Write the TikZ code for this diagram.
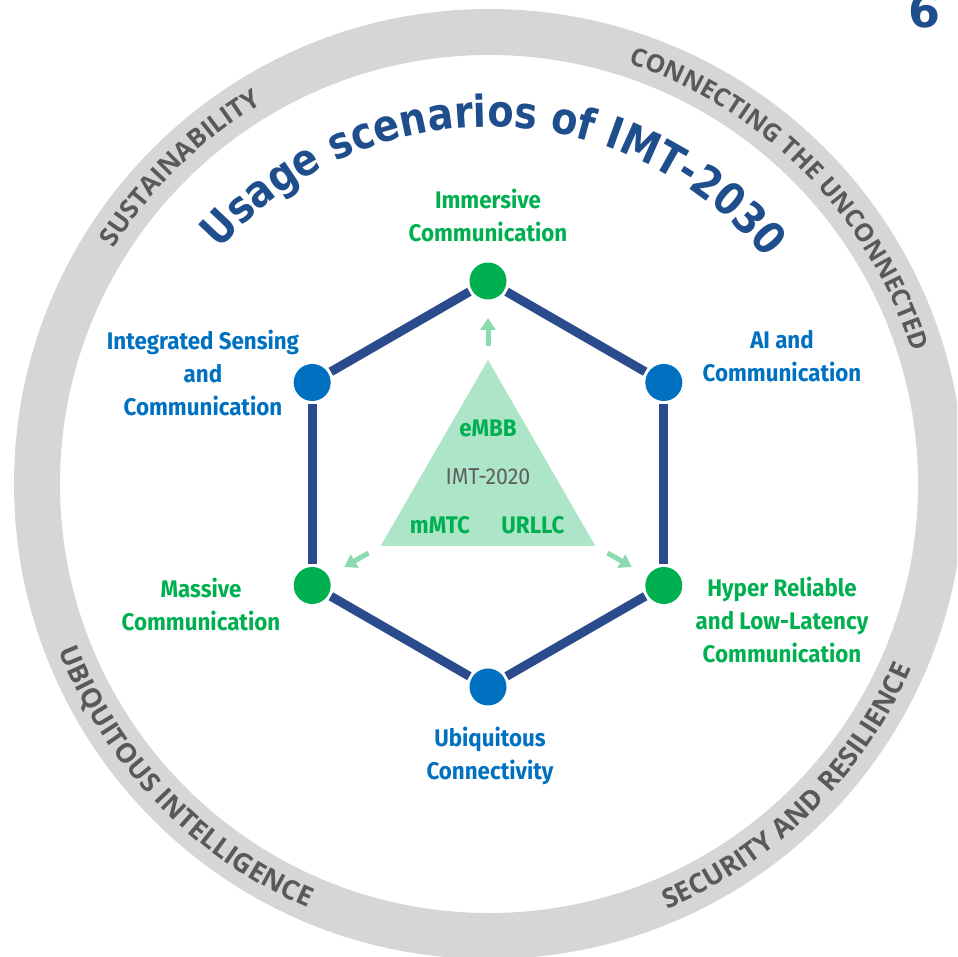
\documentclass[tikz,border=0pt]{standalone}
\usepackage{fontspec}
\usetikzlibrary{decorations.text,arrows.meta}
\setmainfont{Fira Sans}
\newfontfamily\labfont[FakeStretch=0.93]{Fira Sans}
\newfontfamily\titlefont[FakeStretch=0.87]{DejaVu Sans}
\newfontfamily\pagefont{DejaVu Sans}
\newfontfamily\ringfont{Open Sans}
\definecolor{ringgray}{RGB}{214,214,214}
\definecolor{ringtext}{RGB}{89,89,89}
\definecolor{navy}{RGB}{43,76,140}
\definecolor{nodegreen}{RGB}{0,176,80}
\definecolor{nodeblue}{RGB}{0,112,192}
\definecolor{titleblue}{RGB}{31,78,140}
\definecolor{mint}{RGB}{172,229,200}
\definecolor{mintarrow}{RGB}{140,218,176}
\definecolor{imtgray}{RGB}{95,95,95}
\begin{document}
\begin{tikzpicture}[x=1pt,y=1pt,
  hexnode/.style={circle, minimum size=37pt, inner sep=0pt, outer sep=3pt},
  gnode/.style={hexnode, fill=nodegreen},
  bnode/.style={hexnode, fill=nodeblue},
  hexedge/.style={draw=navy, line width=9pt},
  lbl/.style={align=center, font=\labfont\bfseries\fontsize{24}{33}\selectfont, inner sep=0pt},
  glbl/.style={lbl, text=nodegreen},
  blbl/.style={lbl, text=nodeblue},
  ringlbl/.style 2 args={decorate, decoration={text along path, text align=center, text color=ringtext, text={|\ringfont\bfseries\fontsize{#1}{#1}\selectfont|#2}}},
  mintarr/.style={draw=mintarrow, line width=5pt, -{Triangle[width=15pt,length=12pt]}},
  trilbl/.style={font=\labfont\bfseries\fontsize{24}{28}\selectfont, text=nodegreen, inner sep=0pt},
]
\useasboundingbox (-489,-473) rectangle (468,484);
\clip (-489,-473) rectangle (468,484);
% ring
\draw[ringgray, line width=46pt] (0,0) circle[radius=452];
\path[ringlbl={26}{SUSTAINABILITY}] (164.4:443) arc[start angle=164.4, end angle=104.4, radius=443];
\path[ringlbl={25}{CONNECTING THE UNCONNECTED}] (84.5:443) arc[start angle=84.5, end angle=4.5, radius=443];
\path[ringlbl={27}{UBIQUITOUS INTELLIGENCE}] (184:461) arc[start angle=184, end angle=264, radius=461];
\path[ringlbl={27}{SECURITY AND RESILIENCE}] (274.6:461) arc[start angle=274.6, end angle=354.6, radius=461];
% title
\path[decorate, decoration={text along path, text align=center, text color=titleblue,
  text={|\titlefont\bfseries\fontsize{44}{44}\selectfont|Usage scenarios of IMT-2030}}]
  (149:357) arc[start angle=149, end angle=29, radius=357];
% page number
\node[anchor=base, text=titleblue, font=\pagefont\bfseries\fontsize{46}{46}\selectfont, inner sep=0pt] (pagenum) at (435,456) {6};
% triangle
\fill[mint] (-1,124) -- (-108.4,-62) -- (106.4,-62) -- cycle;
\node[trilbl] (embb) at (-1,56) {eMBB};
\node[font=\labfont\fontsize{23}{26}\selectfont, text=imtgray, inner sep=0pt] (imt) at (-1,7) {IMT-2020};
\node[trilbl] (mmtc) at (-49,-41) {mMTC};
\node[trilbl] (urllc) at (44,-41) {URLLC};
% small arrows
\coordinate (aus) at (-1,138);
\coordinate (aue) at (-1,166);
\coordinate (als) at (-120.5,-69);
\coordinate (ale) at (-144.8,-83);
\coordinate (ars) at (118.5,-69);
\coordinate (are) at (142.8,-83);
\draw[mintarr] (aus) -- (aue);
\draw[mintarr] (als) -- (ale);
\draw[mintarr] (ars) -- (are);
% hexagon nodes
\node[gnode] (imm) at (-1,203) {};
\node[bnode] (ai) at (174.8,101.5) {};
\node[gnode] (hrl) at (174.8,-101.5) {};
\node[bnode] (ubq) at (-1,-203) {};
\node[gnode] (mas) at (-176.8,-101.5) {};
\node[bnode] (isac) at (-176.8,101.5) {};
\draw[hexedge] (imm) -- (ai);
\draw[hexedge] (ai) -- (hrl);
\draw[hexedge] (hrl) -- (ubq);
\draw[hexedge] (ubq) -- (mas);
\draw[hexedge] (mas) -- (isac);
\draw[hexedge] (isac) -- (imm);
% labels
\node[glbl] (limm) at (-1,269) {Immersive\\Communication};
\node[blbl] (lai) at (293,128) {AI and\\Communication};
\node[blbl] (lisac) at (-286,111.5) {Integrated Sensing\\and\\Communication};
\node[glbl] (lmas) at (-288,-120) {Massive\\Communication};
\node[glbl] (lhrl) at (293,-136) {Hyper Reliable\\and Low-Latency\\Communication};
\node[blbl] (lubq) at (1,-272) {Ubiquitous\\Connectivity};
\end{tikzpicture}
\end{document}
